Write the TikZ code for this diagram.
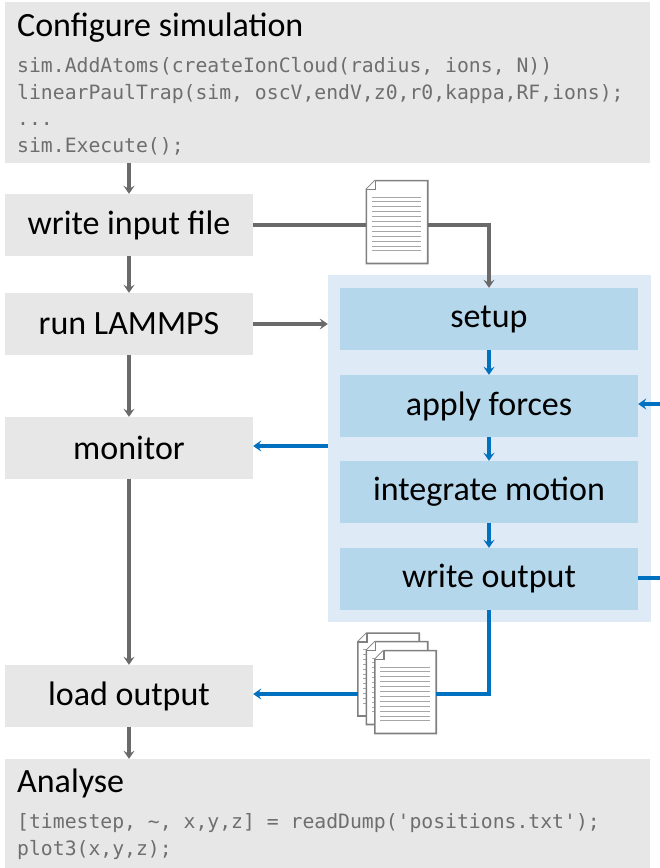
\documentclass[tikz,border=0pt]{standalone}
\usepackage{fontspec}
\setmainfont{Carlito}
\setmonofont{DejaVu Sans Mono}
\usetikzlibrary{arrows.meta}
\usetikzlibrary{calc}

\definecolor{boxgrey}{HTML}{E7E7E7}
\definecolor{linegrey}{HTML}{6A6A6A}
\definecolor{codegrey}{HTML}{6E6E6E}
\definecolor{panelblue}{HTML}{DEEBF7}
\definecolor{stepblue}{HTML}{B4D7EC}
\definecolor{flowblue}{HTML}{0070C0}

\tikzset{
    tip/.tip={Stealth[length=8pt,width=11pt,inset=3pt]},
    greybox/.style={fill=boxgrey,minimum width=248pt,minimum height=62pt,inner sep=0pt,font=\fontsize{34}{40}\selectfont},
    stepbox/.style={fill=stepblue,minimum width=298pt,minimum height=62pt,inner sep=0pt,font=\fontsize{34}{40}\selectfont},
    title/.style={anchor=base west,inner sep=0pt,font=\fontsize{34}{40}\selectfont},
    code/.style={anchor=north west,inner sep=0pt,align=left,text=codegrey,font=\fontsize{19.75}{26.8}\selectfont\ttfamily},
    greyflow/.style={draw=linegrey,line width=3.05pt,-tip},
    blueflow/.style={draw=flowblue,line width=3.05pt,-tip},
    docbox/.style={minimum width=61pt,minimum height=82.5pt,inner sep=0pt},
    docedge/.style={draw=linegrey!85,line width=1.6pt,fill=white,line join=miter},
    docrule/.style={draw=black!35,line width=1pt}
}

\newcommand{\docsheet}[3]{%
    \node[docbox] (#1) at (#2,#3) {};
    \draw[docedge] ($(#1.north west)+(9,0)$) -- (#1.north east) -- (#1.south east) -- (#1.south west) -- ($(#1.north west)+(0,9)$) -- cycle;
    \draw[docedge] ($(#1.north west)+(9,0)$) -- ($(#1.north west)+(9,9)$) -- ($(#1.north west)+(0,9)$);
    \foreach \r in {0,...,11}
        \draw[docrule] ($(#1.north west)+(5.5,16.5+4.9*\r)$) -- ($(#1.north east)+(-6.5,16.5+4.9*\r)$);
}

\begin{document}
\begin{tikzpicture}[x=1pt,y=-1pt]
    \useasboundingbox (0,0) rectangle (660,868);

    % left column
    \node[fill=boxgrey,minimum width=645pt,minimum height=161pt,inner sep=0pt] (config) at (327.5,82.5) {};
    \node[title] (configtitle) at (17,36.5) {Configure simulation};
    \node[code] (configcode) at (17,57) {sim.AddAtoms(createIonCloud(radius, ions, N))\\linearPaulTrap(sim, oscV,endV,z0,r0,kappa,RF,ions);\\...\\sim.Execute();};
    \node[greybox] (write) at (129,225) {write input file};
    \node[greybox] (run) at (129,324) {run LAMMPS};
    \node[greybox] (monitor) at (129,448) {monitor};
    \node[greybox] (load) at (129,696) {load output};
    \node[fill=boxgrey,minimum width=645pt,minimum height=109pt,inner sep=0pt] (analyse) at (327.5,813.5) {};
    \node[title] (analysetitle) at (17,792) {Analyse};
    \node[code] (analysecode) at (17,813) {[timestep, \char`\~, x,y,z] = readDump('positions.txt');\\plot3(x,y,z);};

    % simulation steps
    \node[fill=panelblue,minimum width=323pt,minimum height=347pt,inner sep=0pt] (panel) at (489.5,448.5) {};
    \node[stepbox] (setup) at (489,319) {setup};
    \node[stepbox] (forces) at (489,406) {apply forces};
    \node[stepbox] (motion) at (489,492) {integrate motion};
    \node[stepbox] (output) at (489,579) {write output};

    % files
    \docsheet{infile}{397}{222}
    \docsheet{dumpa}{388.5}{674.5}
    \docsheet{dumpb}{397}{683}
    \docsheet{dumpc}{405.5}{692}

    \coordinate (forcesin) at (660,404);
    \coordinate (outputout) at (660,578);
    \coordinate (dumpline) at (489,694);

    % grey arrows
    \draw[greyflow] (config.south -| write.north) -- (write.north);
    \draw[greyflow] (write.south) -- (run.north);
    \draw[greyflow] (run.south) -- (monitor.north);
    \draw[greyflow] (monitor.south) -- (load.north);
    \draw[greyflow] (load.south) -- (analyse.north -| load.south);
    \draw[greyflow] (run.east) -- (run.east -| panel.west);
    \draw[greyflow,-] (write.east) -- (write.east -| infile.west);
    \draw[greyflow] (write.east -| infile.east) -| (setup.north);

    % blue arrows
    \draw[blueflow] (setup.south) -- (forces.north);
    \draw[blueflow] (forces.south) -- (motion.north);
    \draw[blueflow] (motion.south) -- (output.north);
    \draw[blueflow] (forcesin) -- (forcesin -| forces.east);
    \draw[blueflow,-] (outputout -| output.east) -- (outputout);
    \draw[blueflow] (panel.west |- 0,446) -- (monitor.east |- 0,446);
    \draw[blueflow,-] (output.south) |- (dumpline -| dumpc.east);
    \draw[blueflow] (dumpline -| dumpa.west) -- (dumpline -| load.east);
\end{tikzpicture}
\end{document}
